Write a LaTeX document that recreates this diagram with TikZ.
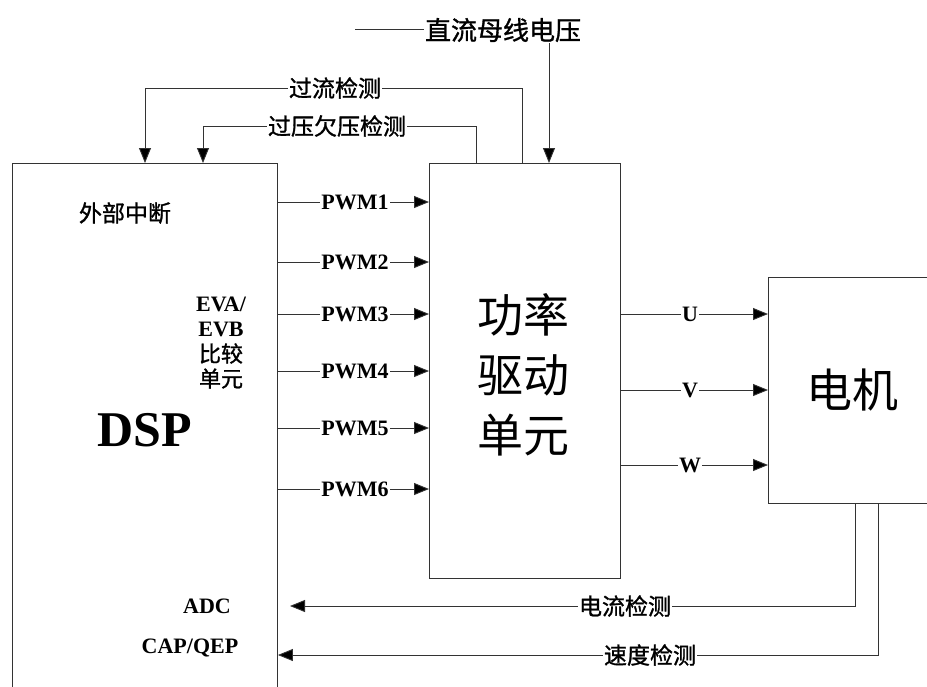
\documentclass[tikz,border=0pt]{standalone}
\usepackage{fontspec}
\setmainfont{Liberation Serif}
\newfontfamily\cjk{Noto Sans CJK SC}
\newfontfamily\cjkm{Noto Sans CJK SC}[FakeBold=1.2]
\usetikzlibrary{arrows.meta}
\begin{document}
\begin{tikzpicture}[x=1pt,y=-1pt,
  ln/.style={line width=0.9pt,draw=black!80},
  arr/.style={ln,-{Triangle[length=15pt,width=12pt,fill=black]}},
  box/.style={ln,rectangle,inner sep=0pt},
  lbl/.style={fill=white,inner sep=1pt,font=\bfseries\fontsize{22}{24}\selectfont},
  clbl/.style={fill=white,inner sep=1pt,font=\cjkm\fontsize{23}{25}\selectfont},
  inlbl/.style={inner sep=0pt,align=center,font=\bfseries\fontsize{22}{25}\selectfont},
  big/.style={inner sep=0pt,align=center,font=\cjk\fontsize{46}{60}\selectfont}]
\useasboundingbox (0,0) rectangle (927,686);
\clip (0,0) rectangle (927,686);
% boxes
\node[box,minimum width=265pt,minimum height=540pt,anchor=north west] (dsp) at (12,163) {};
\node[box,minimum width=191pt,minimum height=415pt,anchor=north west] (pw) at (429,163) {};
\node[box,minimum width=175pt,minimum height=226pt,anchor=north west] (mot) at (768,277) {};
% texts inside
\node[clbl,fill=none] (ext) at (125,213) {外部中断};
\node[inlbl] (eva) at (221,343) {EVA/\\EVB\\{\cjkm\mdseries\fontsize{22}{28}\selectfont 比较}\\{\cjkm\mdseries\fontsize{22}{28}\selectfont 单元}};
\node[inner sep=0pt,font=\bfseries\fontsize{50}{52}\selectfont] (dsplbl) at (145,430) {DSP};
\node[inlbl] (adc) at (207,606) {ADC};
\node[inlbl] (cap) at (190,648) {CAP/QEP};
\node[big] (pwlbl) at (523,375) {功率\\驱动\\单元};
\node[big] (motlbl) at (852,390) {电机};
% PWM
\foreach \i/\y in {1/202,2/262,3/314,4/371,5/428,6/489}{
  \draw[arr] (dsp.east |- 0,\y) -- (pw.west |- 0,\y) node[lbl,pos=0.51] (pwm\i) {PWM\i};
}
% UVW
\foreach \n/\y in {U/314,V/390,W/465}{
  \draw[arr] (pw.east |- 0,\y) -- (mot.west |- 0,\y) node[lbl,pos=0.47] (ph\n) {\n};
}
% DC bus
\node[clbl,font=\cjkm\fontsize{26}{28}\selectfont] (dc) at (503,30) {直流母线电压};
\coordinate (dcl) at (355,29);
\draw[ln] (dcl) -- (dc.west |- dcl);
\draw[arr] (dc.south -| 549,0) -- (pw.north -| 549,0);
% over current
\node[clbl] (oc) at (335,88) {过流检测};
\draw[ln] (pw.north -| 522,0) |- (oc.east);
\draw[arr] (oc.west) -| (dsp.north -| 145,0);
% over/under voltage
\node[clbl] (ov) at (337,126) {过压欠压检测};
\draw[ln] (pw.north -| 476,0) |- (ov.east);
\draw[arr] (ov.west) -| (dsp.north -| 203,0);
% current detection
\node[clbl] (cur) at (625,606) {电流检测};
\coordinate (adcin) at (290,606);
\draw[ln] (mot.south -| 855,0) |- (cur.east);
\draw[arr] (cur.west) -- (adcin);
% speed detection
\node[clbl] (spd) at (650,655) {速度检测};
\draw[ln] (mot.south -| 878,0) |- (spd.east);
\draw[arr] (spd.west) -- (dsp.east |- spd);
\end{tikzpicture}
\end{document}
